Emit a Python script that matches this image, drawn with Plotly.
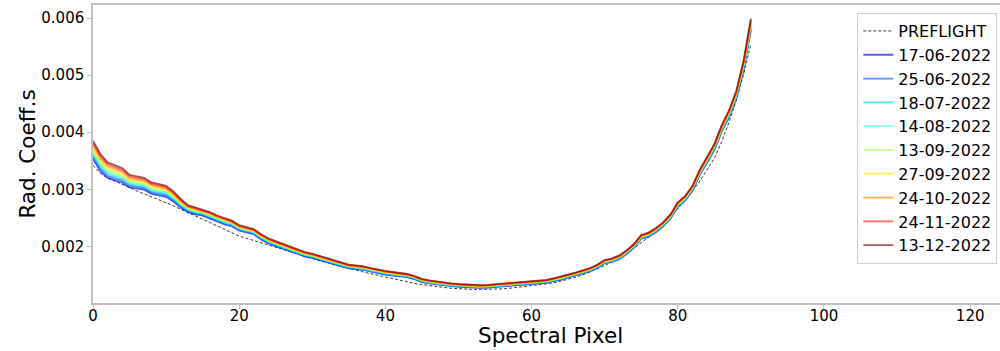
import plotly.graph_objects as go

pixels = list(range(91))

# values in units of 1e-6
preflight = [
    3420, 3280, 3200, 3140, 3080, 3030, 2970, 2920, 2870, 2820,
    2770, 2710, 2650, 2590, 2530, 2470, 2410, 2350, 2300, 2240,
    2180, 2140, 2100, 2060, 2020, 1980, 1940, 1900, 1860, 1820,
    1790, 1750, 1720, 1680, 1650, 1620, 1580, 1550, 1520, 1490,
    1460, 1430, 1400, 1380, 1350, 1330, 1310, 1290, 1280, 1265,
    1255, 1250, 1245, 1245, 1245, 1250, 1255, 1265, 1280, 1295,
    1305, 1320, 1340, 1360, 1390, 1420, 1460, 1500, 1550, 1600,
    1660, 1730, 1800, 1880, 1970, 2060, 2160, 2270, 2390, 2520,
    2660, 2810, 2970, 3140, 3330, 3540, 3830, 4170, 4560, 5010, 5550]

d_17_06_2022 = [
    3530, 3316, 3198, 3156, 3114, 3034, 3012, 2992, 2920, 2890,
    2868, 2784, 2678, 2600, 2560, 2538, 2488, 2436, 2386, 2354,
    2274, 2244, 2212, 2122, 2052, 2002, 1960, 1920, 1870, 1820,
    1798, 1758, 1718, 1688, 1648, 1616, 1601, 1586, 1556, 1526,
    1506, 1486, 1471, 1459, 1424, 1374, 1349, 1329, 1309, 1302,
    1292, 1282, 1272, 1272, 1277, 1287, 1292, 1302, 1317, 1327,
    1337, 1347, 1362, 1392, 1414, 1454, 1484, 1524, 1564, 1624,
    1704, 1726, 1776, 1866, 1976, 2136, 2168, 2248, 2348, 2488,
    2690, 2800, 2972, 3252, 3464, 3686, 4008, 4260, 4584, 5090, 5790]

d_25_06_2022 = [
    3570, 3354, 3232, 3189, 3146, 3061, 3038, 3018, 2945, 2915,
    2892, 2806, 2697, 2615, 2575, 2552, 2502, 2449, 2399, 2366,
    2286, 2256, 2223, 2133, 2063, 2013, 1970, 1930, 1880, 1830,
    1807, 1767, 1727, 1697, 1657, 1624, 1609, 1594, 1564, 1534,
    1514, 1494, 1479, 1466, 1431, 1381, 1356, 1336, 1316, 1308,
    1298, 1288, 1278, 1278, 1283, 1293, 1298, 1308, 1323, 1333,
    1343, 1353, 1368, 1398, 1421, 1461, 1491, 1531, 1571, 1631,
    1711, 1734, 1784, 1874, 1984, 2144, 2177, 2257, 2357, 2497,
    2700, 2810, 2983, 3263, 3476, 3699, 4022, 4275, 4601, 5110, 5815]

d_18_07_2022 = [
    3610, 3392, 3266, 3222, 3178, 3088, 3064, 3044, 2970, 2940,
    2916, 2828, 2716, 2630, 2590, 2566, 2516, 2462, 2412, 2378,
    2298, 2268, 2234, 2144, 2074, 2024, 1980, 1940, 1890, 1840,
    1816, 1776, 1736, 1706, 1666, 1632, 1617, 1602, 1572, 1542,
    1522, 1502, 1487, 1473, 1438, 1388, 1363, 1343, 1323, 1314,
    1304, 1294, 1284, 1284, 1289, 1299, 1304, 1314, 1329, 1339,
    1349, 1359, 1374, 1404, 1428, 1468, 1498, 1538, 1578, 1638,
    1718, 1742, 1792, 1882, 1992, 2152, 2186, 2266, 2366, 2506,
    2710, 2820, 2994, 3274, 3488, 3712, 4036, 4290, 4618, 5130, 5840]

d_14_08_2022 = [
    3650, 3430, 3300, 3255, 3210, 3115, 3090, 3070, 2995, 2965,
    2940, 2850, 2735, 2645, 2605, 2580, 2530, 2475, 2425, 2390,
    2310, 2280, 2245, 2155, 2085, 2035, 1990, 1950, 1900, 1850,
    1825, 1785, 1745, 1715, 1675, 1640, 1625, 1610, 1580, 1550,
    1530, 1510, 1495, 1480, 1445, 1395, 1370, 1350, 1330, 1320,
    1310, 1300, 1290, 1290, 1295, 1305, 1310, 1320, 1335, 1345,
    1355, 1365, 1380, 1410, 1435, 1475, 1505, 1545, 1585, 1645,
    1725, 1750, 1800, 1890, 2000, 2160, 2195, 2275, 2375, 2515,
    2720, 2830, 3005, 3285, 3500, 3725, 4050, 4305, 4635, 5150, 5865]

d_13_09_2022 = [
    3690, 3468, 3334, 3288, 3242, 3142, 3116, 3096, 3020, 2990,
    2964, 2872, 2754, 2660, 2620, 2594, 2544, 2488, 2438, 2402,
    2322, 2292, 2256, 2166, 2096, 2046, 2000, 1960, 1910, 1860,
    1834, 1794, 1754, 1724, 1684, 1648, 1633, 1618, 1588, 1558,
    1538, 1518, 1503, 1487, 1452, 1402, 1377, 1357, 1337, 1326,
    1316, 1306, 1296, 1296, 1301, 1311, 1316, 1326, 1341, 1351,
    1361, 1371, 1386, 1416, 1442, 1482, 1512, 1552, 1592, 1652,
    1732, 1758, 1808, 1898, 2008, 2168, 2204, 2284, 2384, 2524,
    2730, 2840, 3016, 3296, 3512, 3738, 4064, 4320, 4652, 5170, 5890]

d_27_09_2022 = [
    3730, 3506, 3368, 3321, 3274, 3169, 3142, 3122, 3045, 3015,
    2988, 2894, 2773, 2675, 2635, 2608, 2558, 2501, 2451, 2414,
    2334, 2304, 2267, 2177, 2107, 2057, 2010, 1970, 1920, 1870,
    1843, 1803, 1763, 1733, 1693, 1656, 1641, 1626, 1596, 1566,
    1546, 1526, 1511, 1494, 1459, 1409, 1384, 1364, 1344, 1332,
    1322, 1312, 1302, 1302, 1307, 1317, 1322, 1332, 1347, 1357,
    1367, 1377, 1392, 1422, 1449, 1489, 1519, 1559, 1599, 1659,
    1739, 1766, 1816, 1906, 2016, 2176, 2213, 2293, 2393, 2533,
    2740, 2850, 3027, 3307, 3524, 3751, 4078, 4335, 4669, 5190, 5915]

d_24_10_2022 = [
    3770, 3544, 3402, 3354, 3306, 3196, 3168, 3148, 3070, 3040,
    3012, 2916, 2792, 2690, 2650, 2622, 2572, 2514, 2464, 2426,
    2346, 2316, 2278, 2188, 2118, 2068, 2020, 1980, 1930, 1880,
    1852, 1812, 1772, 1742, 1702, 1664, 1649, 1634, 1604, 1574,
    1554, 1534, 1519, 1501, 1466, 1416, 1391, 1371, 1351, 1338,
    1328, 1318, 1308, 1308, 1313, 1323, 1328, 1338, 1353, 1363,
    1373, 1383, 1398, 1428, 1456, 1496, 1526, 1566, 1606, 1666,
    1746, 1774, 1824, 1914, 2024, 2184, 2222, 2302, 2402, 2542,
    2750, 2860, 3038, 3318, 3536, 3764, 4092, 4350, 4686, 5210, 5940]

d_24_11_2022 = [
    3810, 3582, 3436, 3387, 3338, 3223, 3194, 3174, 3095, 3065,
    3036, 2938, 2811, 2705, 2665, 2636, 2586, 2527, 2477, 2438,
    2358, 2328, 2289, 2199, 2129, 2079, 2030, 1990, 1940, 1890,
    1861, 1821, 1781, 1751, 1711, 1672, 1657, 1642, 1612, 1582,
    1562, 1542, 1527, 1508, 1473, 1423, 1398, 1378, 1358, 1344,
    1334, 1324, 1314, 1314, 1319, 1329, 1334, 1344, 1359, 1369,
    1379, 1389, 1404, 1434, 1463, 1503, 1533, 1573, 1613, 1673,
    1753, 1782, 1832, 1922, 2032, 2192, 2231, 2311, 2411, 2551,
    2760, 2870, 3049, 3329, 3548, 3777, 4106, 4365, 4703, 5230, 5965]

d_13_12_2022 = [
    3850, 3620, 3470, 3420, 3370, 3250, 3220, 3200, 3120, 3090,
    3060, 2960, 2830, 2720, 2680, 2650, 2600, 2540, 2490, 2450,
    2370, 2340, 2300, 2210, 2140, 2090, 2040, 2000, 1950, 1900,
    1870, 1830, 1790, 1760, 1720, 1680, 1665, 1650, 1620, 1590,
    1570, 1550, 1535, 1515, 1480, 1430, 1405, 1385, 1365, 1350,
    1340, 1330, 1320, 1320, 1325, 1335, 1340, 1350, 1365, 1375,
    1385, 1395, 1410, 1440, 1470, 1510, 1540, 1580, 1620, 1680,
    1760, 1790, 1840, 1930, 2040, 2200, 2240, 2320, 2420, 2560,
    2770, 2880, 3060, 3340, 3560, 3790, 4120, 4380, 4720, 5250, 5990]

dates = ["17-06-2022", "25-06-2022", "18-07-2022", "14-08-2022", "13-09-2022",
         "27-09-2022", "24-10-2022", "24-11-2022", "13-12-2022"]
series = [d_17_06_2022, d_25_06_2022, d_18_07_2022, d_14_08_2022, d_13_09_2022,
          d_27_09_2022, d_24_10_2022, d_24_11_2022, d_13_12_2022]
colors = ["rgba(0,0,244,0.65)", "rgba(0,89,255,0.65)", "rgba(0,204,255,0.65)",
          "rgba(72,255,176,0.65)", "rgba(165,255,82,0.65)", "rgba(255,234,0,0.65)",
          "rgba(255,128,0,0.65)", "rgba(255,21,0,0.65)", "rgba(128,0,0,0.65)"]

x_ticks = [0, 20, 40, 60, 80, 100, 120]
y_ticks = [0.002, 0.003, 0.004, 0.005, 0.006]

SCALE = 1e-6
fig = go.Figure()
fig.add_trace(go.Scatter(x=pixels, y=[v * SCALE for v in preflight], mode="lines",
                         name="PREFLIGHT",
                         line=dict(color="rgba(40,40,40,0.9)", width=1, dash="3px,2px")))
for name, vals, col in zip(dates, series, colors):
    fig.add_trace(go.Scatter(x=pixels, y=[v * SCALE for v in vals], mode="lines",
                             name=name, line=dict(color=col, width=1.8)))

font_family = "DejaVu Sans"
axis_line = "#bfbfbf"
fig.update_layout(
    width=1000, height=351,
    margin=dict(l=93, r=0, t=5, b=48),
    plot_bgcolor="white", paper_bgcolor="white",
    font=dict(family=font_family, color="black"),
    showlegend=True,
    legend=dict(x=0.997, xanchor="right", y=0.973, yanchor="top",
                bgcolor="white", bordercolor="#d0d0d0", borderwidth=1,
                font=dict(size=16, family=font_family)),
    annotations=[dict(text="Spectral Pixel", xref="paper", yref="paper",
                      x=0.504, y=-0.1074, xanchor="center", yanchor="middle",
                      showarrow=False, font=dict(size=21.5, family=font_family))],
)
fig.update_xaxes(range=[0, 124.08], tickvals=x_ticks, ticktext=[str(t) for t in x_ticks],
                 showgrid=False, zeroline=False, showline=True, linecolor=axis_line,
                 linewidth=1.5, mirror=True, ticks="outside", ticklen=4, tickcolor=axis_line,
                 ticklabelstandoff=-6, tickfont=dict(size=15))
fig.update_yaxes(range=[0.001007, 0.006228], tickvals=y_ticks,
                 ticktext=["%.3f" % t for t in y_ticks],
                 showgrid=False, zeroline=False, showline=True, linecolor=axis_line,
                 linewidth=1.5, ticks="outside", ticklen=4, tickcolor=axis_line,
                 tickfont=dict(size=15), title=dict(text="Rad. Coeff.s",
                                                    font=dict(size=21.5), standoff=0))
fig.write_html("out.html")
